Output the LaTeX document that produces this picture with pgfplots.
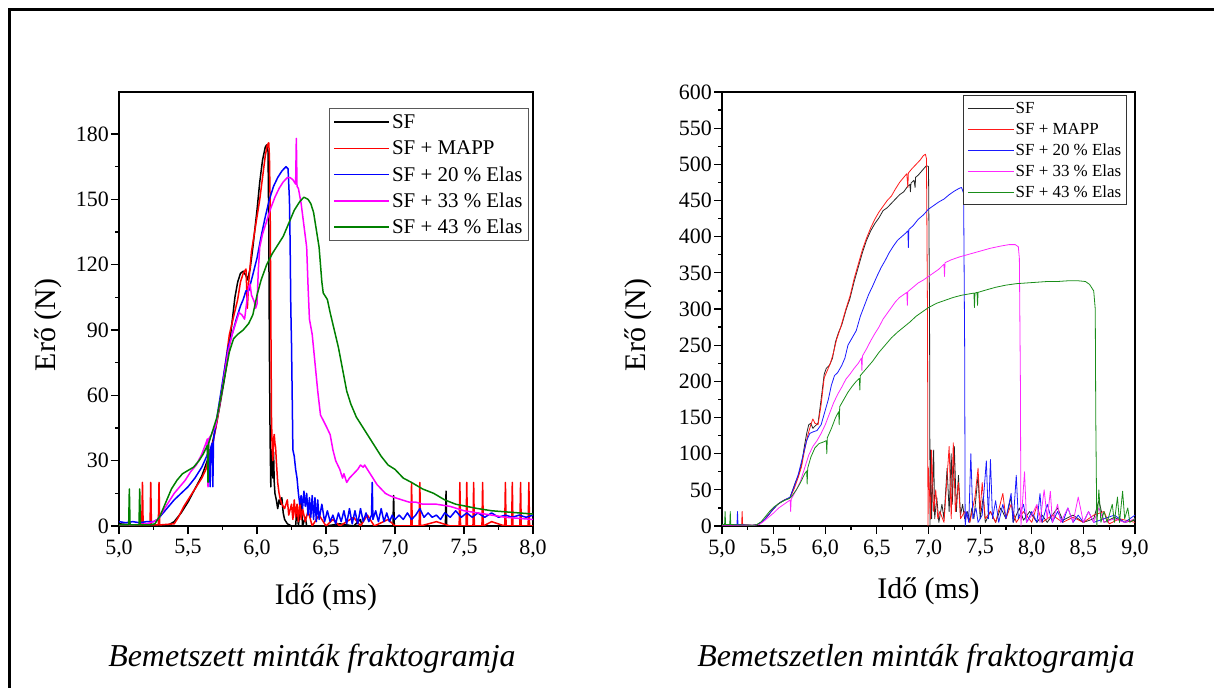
\documentclass[border=0pt]{standalone}
\usepackage{fontspec}
\setmainfont{Liberation Serif}
\usepackage{pgfplots}
\pgfplotsset{compat=1.18}
\definecolor{mgreen}{RGB}{0,128,0}
\definecolor{mmag}{RGB}{255,0,255}
\definecolor{mblue}{RGB}{0,0,255}
\definecolor{mred}{RGB}{255,0,0}
\pgfplotsset{
  frakto/.style={
    scale only axis, anchor=south west,
    axis line style={line width=1.6bp},
    every tick/.style={black, line width=1.2bp},
    major tick length=8bp, minor tick length=4bp,
    tick align=outside, tick pos=left,
    /pgf/number format/assume math mode=true,
    ticklabel style={font=\fontsize{22}{24}\selectfont},
    yticklabel style={inner sep=2bp},
    xticklabel style={yshift=-2bp},
    minor x tick num=1, minor y tick num=1,
    xtick={5,5.5,6,6.5,7,7.5,8,8.5,9},
    xticklabels={{5,0},{5,5},{6,0},{6,5},{7,0},{7,5},{8,0},{8,5},{9,0}},
    every axis plot/.append style={line join=round},
    legend cell align=left,
  }
}
\begin{document}
\begin{tikzpicture}
\useasboundingbox (0,0) rectangle (1214bp,688bp);
% ---------------- left plot ----------------
\begin{axis}[frakto,
  at={(119bp,162bp)}, width=414bp, height=434bp,
  xmin=5, xmax=8, ymin=0, ymax=199.3,
  ytick={0,30,60,90,120,150,180},
  xlabel={Idő (ms)}, ylabel={Erő (N)},
  every axis x label/.style={at={(axis description cs:0.5,0)}, anchor=center, yshift=-71bp, font=\fontsize{30}{32}\selectfont},
  every axis y label/.style={at={([xshift=-71bp]axis description cs:0,0.463)}, anchor=center, rotate=90, font=\fontsize{30}{32}\selectfont},
  legend image code/.code={\path (0bp,0bp) -- (55bp,0bp); \draw[#1] (5bp,0bp) -- (52bp,0bp);},
  legend style={at={(0.99,0.963)}, anchor=north east, draw=black!65, line width=0.8bp,
    font=\fontsize{21}{23}\selectfont, row sep=3.3bp,
    nodes={inner sep=2bp, text height=16bp, text depth=3bp},
    inner xsep=4bp, inner ysep=2bp},
  every axis plot/.append style={line width=1.5bp},
]
\addplot[black] coordinates {
(5.00,1) (5.10,0.5) (5.20,0.3) (5.30,0.3) (5.36,0.5) (5.40,2) (5.45,6) (5.50,11) (5.55,17) (5.60,23) (5.64,30) (5.67,36) (5.70,45) (5.73,55) (5.76,66) (5.79,78) (5.82,94) (5.84,105) (5.86,112) (5.88,116) (5.90,117) (5.92,115) (5.93,113) (5.95,118) (5.97,128) (6.00,145) (6.02,158) (6.04,168) (6.06,174) (6.07,175) (6.08,172) (6.085,140) (6.09,80) (6.095,40) (6.10,18) (6.105,35) (6.11,30) (6.115,22) (6.12,34) (6.125,20) (6.13,15) (6.14,12) (6.15,8) (6.16,12) (6.17,10) (6.18,13) (6.19,6) (6.20,3) (6.22,1) (6.25,0) (6.28,0) (6.29,9) (6.30,0) (6.32,12) (6.33,0) (6.35,4) (6.36,0) (6.5,0) (6.6,1) (6.7,0) (6.75,3) (6.76,0) (6.9,0) (6.985,0) (6.99,14) (6.995,0) (7.2,0) (7.365,0) (7.37,16) (7.375,0) (7.6,0) (8.0,0)};
\addplot[mred] coordinates {
(5.00,0.5) (5.165,0.5) (5.17,20) (5.175,0.5) (5.225,0.5) (5.23,20) (5.235,0.5) (5.285,0.5) (5.29,20) (5.295,0.5) (5.40,1) (5.43,4) (5.47,9) (5.52,14) (5.56,18) (5.60,22) (5.63,26) (5.65,31) (5.68,38) (5.71,48) (5.74,60) (5.77,74) (5.80,88) (5.83,96) (5.86,104) (5.88,112) (5.90,116) (5.92,118) (5.925,110) (5.93,100) (5.94,112) (5.96,126) (5.99,138) (6.02,150) (6.04,160) (6.06,170) (6.075,175) (6.085,176) (6.09,170) (6.095,150) (6.10,100) (6.105,50) (6.11,35) (6.115,30) (6.12,40) (6.125,42) (6.13,38) (6.135,36) (6.14,30) (6.15,20) (6.16,15) (6.17,12) (6.18,10) (6.20,8) (6.22,12) (6.23,5) (6.25,10) (6.26,3) (6.27,12) (6.28,4) (6.29,10) (6.30,2) (6.31,11) (6.32,3) (6.33,8) (6.35,2) (6.37,7) (6.40,0) (6.45,5) (6.50,0) (6.55,3) (6.60,0) (6.70,4) (6.75,0) (6.80,5) (6.85,0) (6.95,3) (7.00,0) (7.115,0) (7.12,20) (7.125,0) (7.175,0) (7.18,20) (7.185,0) (7.30,2) (7.40,0) (7.465,0) (7.47,20) (7.475,0) (7.515,0) (7.52,20) (7.525,0) (7.565,0) (7.57,20) (7.575,0) (7.63,0) (7.635,20) (7.64,0) (7.70,2) (7.795,0) (7.80,20) (7.805,0) (7.845,0) (7.85,20) (7.855,0) (7.905,0) (7.91,20) (7.915,0) (7.965,0) (7.97,20) (7.975,0) (8.0,0)};
\addplot[mblue] coordinates {
(5.00,2) (5.05,1.5) (5.10,2) (5.15,1.5) (5.20,2) (5.25,2) (5.28,3) (5.32,6) (5.36,9) (5.40,12) (5.45,15) (5.50,18) (5.55,22) (5.60,27) (5.635,32) (5.655,35) (5.66,18) (5.665,36) (5.675,38) (5.68,18) (5.685,40) (5.70,46) (5.73,58) (5.76,70) (5.79,82) (5.82,88) (5.85,95) (5.88,101) (5.90,104) (5.92,108) (5.94,108) (5.96,113) (5.98,118) (6.00,123) (6.03,133) (6.06,142) (6.09,150) (6.12,156) (6.15,160) (6.18,163) (6.21,165) (6.225,164) (6.235,150) (6.24,130) (6.245,100) (6.25,84) (6.255,60) (6.26,35) (6.27,32) (6.28,26) (6.29,22) (6.30,15) (6.31,10) (6.32,14) (6.33,8) (6.34,16) (6.35,9) (6.36,15) (6.37,5) (6.38,13) (6.39,4) (6.40,14) (6.41,3) (6.42,13) (6.43,2) (6.44,12) (6.45,3) (6.47,10) (6.49,2) (6.51,7) (6.53,2) (6.55,5) (6.57,1) (6.59,6) (6.61,2) (6.63,7) (6.65,1) (6.67,8) (6.69,1) (6.71,7) (6.73,1) (6.75,8) (6.77,2) (6.79,6) (6.81,2) (6.83,5) (6.835,20) (6.84,3) (6.86,7) (6.88,2) (6.90,8) (6.92,2) (6.94,6) (6.96,2) (6.98,5) (7.00,3) (7.03,5) (7.06,3) (7.09,6) (7.12,3) (7.15,5) (7.18,8) (7.21,4) (7.24,6) (7.27,4) (7.30,5) (7.33,3) (7.36,6) (7.40,4) (7.44,7) (7.48,4) (7.52,6) (7.56,4) (7.60,6) (7.65,4) (7.70,6) (7.75,4) (7.80,5) (7.85,4) (7.90,5) (7.95,4) (8.00,5)};
\addplot[mmag] coordinates {
(5.00,0.5) (5.10,0.5) (5.20,1) (5.25,2) (5.28,3) (5.32,7) (5.36,11) (5.40,15) (5.44,18) (5.48,21) (5.52,25) (5.56,28) (5.60,33) (5.63,38) (5.64,40) (5.645,18) (5.65,40) (5.67,42) (5.70,46) (5.73,56) (5.76,68) (5.79,80) (5.82,88) (5.85,94) (5.87,98) (5.89,97) (5.91,95) (5.93,105) (5.94,110) (5.95,111) (5.96,106) (5.98,103) (5.99,100) (6.00,102) (6.01,118) (6.02,128) (6.04,134) (6.07,140) (6.10,146) (6.13,151) (6.16,155) (6.19,158) (6.22,160) (6.24,160) (6.26,159) (6.28,157) (6.285,178) (6.29,156) (6.30,155) (6.32,148) (6.34,138) (6.36,128) (6.37,110) (6.38,95) (6.40,88) (6.42,75) (6.44,62) (6.46,51) (6.50,46) (6.53,42) (6.55,35) (6.57,30) (6.60,26) (6.62,22) (6.63,24) (6.65,20) (6.67,22) (6.70,24) (6.73,26) (6.75,28) (6.77,27) (6.78,28) (6.80,26) (6.82,24) (6.84,22) (6.87,19) (6.90,17) (6.93,15) (6.96,14) (7.00,13) (7.05,12) (7.10,11) (7.15,11) (7.20,10) (7.30,10) (7.40,9) (7.45,8) (7.50,7) (7.60,6) (7.70,5) (7.80,4) (7.90,3.5) (8.00,3)};
\addplot[mgreen] coordinates {
(5.00,0.5) (5.07,0.5) (5.075,17) (5.08,0.5) (5.145,0.5) (5.15,17) (5.155,0.5) (5.22,0.5) (5.26,1) (5.30,5) (5.34,11) (5.38,17) (5.42,21) (5.46,24) (5.50,25.5) (5.54,27) (5.58,30) (5.61,33) (5.64,37) (5.645,20) (5.65,38) (5.66,40) (5.68,44) (5.71,50) (5.74,60) (5.77,70) (5.80,80) (5.83,86) (5.86,88) (5.90,90) (5.94,93) (5.97,97) (6.00,106) (6.03,113) (6.07,120) (6.11,125) (6.15,129) (6.19,133) (6.23,139) (6.27,145) (6.31,149) (6.34,151) (6.37,150) (6.39,148) (6.41,144) (6.43,136) (6.45,128) (6.47,112) (6.48,107) (6.51,104) (6.53,98) (6.56,90) (6.59,82) (6.62,72) (6.65,62) (6.68,56) (6.72,50) (6.76,46) (6.80,42) (6.85,37) (6.90,32) (6.95,28) (7.00,26) (7.06,22) (7.12,20) (7.20,17) (7.28,15) (7.36,12) (7.44,10) (7.52,9) (7.60,8) (7.70,7) (7.80,6.5) (7.90,6) (8.00,5.5)};
\legend{SF, SF + MAPP, SF + 20 \% Elas, SF + 33 \% Elas, SF + 43 \% Elas}
\end{axis}
% ---------------- right plot ----------------
\begin{axis}[frakto,
  at={(722bp,162bp)}, width=413bp, height=434bp,
  xmin=5, xmax=9, ymin=0, ymax=600,
  ytick={0,50,...,600},
  xlabel={Idő (ms)}, ylabel={Erő (N)},
  every axis x label/.style={at={(axis description cs:0.5,0)}, anchor=center, yshift=-65bp, font=\fontsize{30}{32}\selectfont},
  every axis y label/.style={at={([xshift=-84bp]axis description cs:0,0.463)}, anchor=center, rotate=90, font=\fontsize{30}{32}\selectfont},
  legend image code/.code={\path (0bp,0bp) -- (46bp,0bp); \draw[#1] (6bp,0bp) -- (44bp,0bp);},
  legend style={at={(0.981,0.993)}, anchor=north east, draw=black!80, line width=0.8bp,
    font=\fontsize{17}{19}\selectfont, row sep=2bp,
    nodes={inner sep=1.5bp, text height=14bp, text depth=2bp},
    inner xsep=4bp, inner ysep=3bp},
  every axis plot/.append style={line width=0.8bp},
]
\addplot[black!85] coordinates {
(5.00,2) (5.10,2) (5.20,1) (5.30,1) (5.34,2) (5.38,5) (5.42,10) (5.46,17) (5.50,24) (5.54,30) (5.58,34) (5.62,37) (5.65,38) (5.66,40) (5.68,48) (5.71,60) (5.74,70) (5.77,85) (5.80,112) (5.82,128) (5.84,140) (5.86,142) (5.88,135) (5.90,138) (5.93,142) (5.96,175) (5.99,210) (6.01,218) (6.04,222) (6.07,232) (6.10,255) (6.13,268) (6.16,278) (6.20,298) (6.24,315) (6.28,338) (6.32,358) (6.36,378) (6.40,395) (6.44,408) (6.48,418) (6.52,426) (6.56,436) (6.60,440) (6.64,446) (6.68,452) (6.72,458) (6.76,462) (6.80,470) (6.82,472) (6.825,462) (6.83,474) (6.86,478) (6.87,468) (6.875,482) (6.90,485) (6.93,490) (6.96,495) (6.98,498) (7.00,497) (7.01,300) (7.015,0)
(7.02,105) (7.03,10) (7.05,105) (7.06,10) (7.08,40) (7.10,5) (7.13,30) (7.15,10) (7.18,80) (7.20,20) (7.22,100) (7.23,30) (7.25,110) (7.27,20) (7.29,70) (7.31,15) (7.33,30) (7.35,10) (7.38,20) (7.40,5) (7.42,25) (7.44,10) (7.48,70) (7.50,10) (7.53,40) (7.55,5) (7.60,20) (7.65,5) (7.70,25) (7.75,10) (7.80,40) (7.82,5) (7.88,25) (7.92,8) (7.98,20) (8.05,5) (8.10,15) (8.15,5) (8.25,25) (8.30,8) (8.40,15) (8.50,5) (8.60,10) (8.65,35) (8.70,5) (8.80,12) (8.90,5) (9.00,8)};
\addplot[mred!90] coordinates {
(5.00,2) (5.19,2) (5.195,20) (5.20,2) (5.30,1) (5.34,2) (5.38,5) (5.42,10) (5.46,17) (5.50,24) (5.54,30) (5.58,34) (5.62,37) (5.66,39) (5.70,52) (5.74,68) (5.77,82) (5.80,105) (5.83,125) (5.86,140) (5.88,148) (5.90,142) (5.93,140) (5.96,168) (5.99,205) (6.02,215) (6.05,225) (6.08,240) (6.11,258) (6.15,275) (6.20,300) (6.24,318) (6.28,342) (6.32,362) (6.36,382) (6.40,398) (6.44,412) (6.48,424) (6.52,434) (6.56,442) (6.60,450) (6.64,456) (6.68,466) (6.72,475) (6.76,482) (6.79,487) (6.80,468) (6.805,488) (6.84,494) (6.88,500) (6.92,506) (6.95,512) (6.97,514) (6.98,508) (6.99,300) (6.995,0)
(7.00,80) (7.02,10) (7.03,105) (7.05,20) (7.07,50) (7.09,10) (7.11,20) (7.15,5) (7.20,110) (7.22,10) (7.24,115) (7.26,20) (7.29,60) (7.31,10) (7.35,20) (7.40,5) (7.45,40) (7.48,80) (7.50,20) (7.52,60) (7.55,10) (7.60,20) (7.65,5) (7.72,45) (7.75,10) (7.80,30) (7.85,5) (7.92,20) (8.00,5) (8.05,28) (8.10,5) (8.20,15) (8.30,5) (8.40,12) (8.50,5) (8.60,15) (8.70,20) (8.75,3) (8.85,10) (9.00,5)};
\addplot[mblue!90] coordinates {
(5.00,2) (5.145,2) (5.15,20) (5.155,2) (5.30,1) (5.34,2) (5.38,5) (5.42,10) (5.46,17) (5.50,24) (5.54,30) (5.58,34) (5.62,37) (5.66,40) (5.70,55) (5.74,72) (5.78,95) (5.82,118) (5.85,128) (5.88,130) (5.92,132) (5.96,140) (6.00,160) (6.03,175) (6.06,195) (6.09,208) (6.12,212) (6.16,222) (6.19,232) (6.22,250) (6.26,260) (6.30,270) (6.34,290) (6.38,305) (6.42,320) (6.46,332) (6.50,345) (6.54,357) (6.58,367) (6.62,378) (6.66,387) (6.70,395) (6.74,400) (6.78,405) (6.80,408) (6.805,385) (6.81,410) (6.85,415) (6.90,424) (6.95,430) (7.00,438) (7.05,443) (7.10,448) (7.15,452) (7.20,458) (7.25,463) (7.30,467) (7.32,468) (7.34,460) (7.35,250) (7.355,0)
(7.37,20) (7.39,5) (7.41,100) (7.43,10) (7.46,25) (7.48,5) (7.52,15) (7.56,90) (7.58,10) (7.60,92) (7.62,10) (7.65,35) (7.68,5) (7.72,30) (7.75,10) (7.80,45) (7.82,5) (7.85,70) (7.87,10) (7.92,30) (7.95,5) (8.00,20) (8.05,5) (8.08,45) (8.10,5) (8.15,30) (8.20,5) (8.25,20) (8.30,5) (8.35,25) (8.40,5) (8.45,15) (8.50,5) (8.55,20) (8.60,5) (8.70,10) (8.80,15) (8.90,5) (9.00,15)};
\addplot[mmag!85] coordinates {
(5.00,1) (5.30,1) (5.36,2) (5.40,6) (5.45,12) (5.50,18) (5.55,25) (5.60,30) (5.64,34) (5.66,36) (5.665,20) (5.67,37) (5.72,50) (5.76,62) (5.80,80) (5.84,98) (5.88,110) (5.92,118) (5.96,128) (6.00,140) (6.04,155) (6.08,170) (6.12,182) (6.16,192) (6.20,203) (6.24,210) (6.28,218) (6.32,225) (6.35,232) (6.355,215) (6.36,235) (6.40,245) (6.44,256) (6.48,266) (6.52,275) (6.56,286) (6.60,294) (6.64,302) (6.68,310) (6.72,316) (6.76,320) (6.79,323) (6.795,305) (6.80,324) (6.85,330) (6.90,336) (6.95,340) (7.00,345) (7.05,350) (7.10,355) (7.15,362) (7.155,345) (7.16,364) (7.22,368) (7.30,372) (7.40,376) (7.50,380) (7.60,384) (7.70,387) (7.78,389) (7.84,389) (7.87,386) (7.88,370) (7.89,200) (7.895,0)
(7.93,75) (7.95,5) (8.00,15) (8.05,30) (8.08,5) (8.12,50) (8.15,10) (8.18,48) (8.20,5) (8.25,30) (8.28,5) (8.35,25) (8.40,5) (8.45,40) (8.50,5) (8.55,20) (8.60,5) (8.65,25) (8.70,5) (8.80,10) (8.90,5) (9.00,10)};
\addplot[mgreen!90] coordinates {
(5.00,2) (5.025,2) (5.03,20) (5.035,2) (5.075,2) (5.08,20) (5.085,2) (5.30,1) (5.34,2) (5.38,6) (5.42,13) (5.46,20) (5.50,26) (5.55,31) (5.60,35) (5.65,38) (5.67,40) (5.72,50) (5.76,60) (5.80,72) (5.82,76) (5.825,58) (5.83,80) (5.86,95) (5.90,108) (5.94,114) (5.98,116) (6.01,118) (6.015,100) (6.02,122) (6.06,135) (6.10,150) (6.13,158) (6.135,140) (6.14,165) (6.18,175) (6.22,185) (6.26,193) (6.30,200) (6.33,204) (6.335,188) (6.34,208) (6.40,218) (6.46,228) (6.52,240) (6.58,250) (6.64,260) (6.70,268) (6.76,275) (6.82,282) (6.88,290) (6.94,296) (7.00,302) (7.08,308) (7.16,312) (7.24,316) (7.32,319) (7.40,321) (7.44,322) (7.445,302) (7.45,322) (7.47,323) (7.475,305) (7.48,323) (7.55,326) (7.65,330) (7.75,333) (7.85,335) (7.95,336) (8.05,337) (8.15,338) (8.25,338) (8.35,339) (8.45,339) (8.52,338) (8.56,334) (8.60,325) (8.615,300) (8.62,150) (8.63,0)
(8.65,50) (8.67,5) (8.70,20) (8.73,5) (8.78,30) (8.80,5) (8.83,40) (8.85,5) (8.88,48) (8.90,10) (8.93,25) (8.95,5) (9.00,10)};
\legend{SF, SF + MAPP, SF + 20 \% Elas, SF + 33 \% Elas, SF + 43 \% Elas}
\end{axis}
% ---------------- frame and captions ----------------
\draw[line width=3bp] (8bp,678bp) -- (1214bp,678bp);
\draw[line width=3bp] (9.5bp,679.5bp) -- (9.5bp,0bp);
\node[font=\fontsize{32}{34}\selectfont\itshape] at (312bp,29bp) {Bemetszett minták fraktogramja};
\node[font=\fontsize{32}{34}\selectfont\itshape] at (916bp,29bp) {Bemetszetlen minták fraktogramja};
\end{tikzpicture}
\end{document}
